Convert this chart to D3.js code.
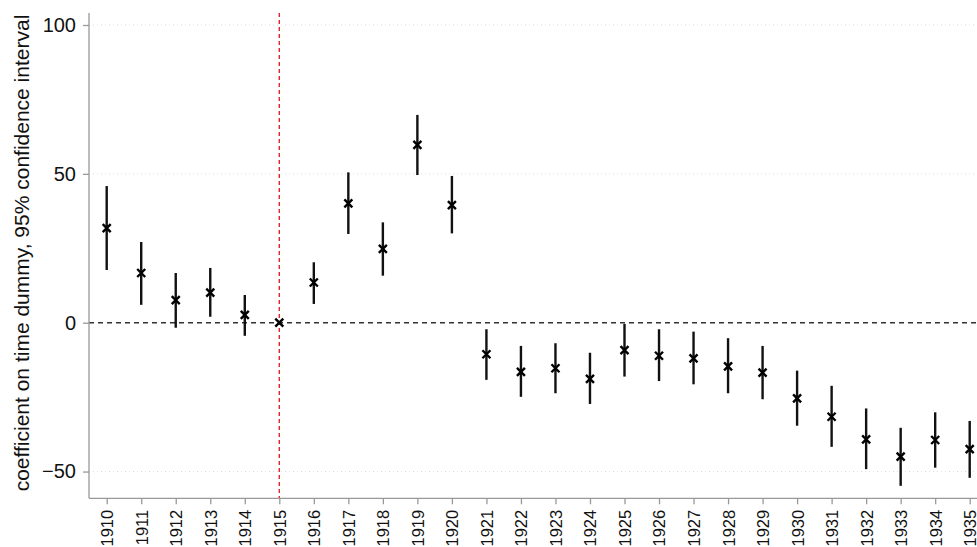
<!DOCTYPE html>
<html><head><meta charset="utf-8">
<script src="https://cdn.jsdelivr.net/npm/d3@7"></script>
<style>body{margin:0;background:#fff}svg{display:block}</style>
</head><body>
<script>
const years = [1910,1911,1912,1913,1914,1915,1916,1917,1918,1919,1920,1921,1922,1923,1924,1925,1926,1927,1928,1929,1930,1931,1932,1933,1934,1935];
const coef  = [31.8,16.7,7.6,10.1,2.6,0,13.5,40.1,24.8,59.7,39.5,-10.6,-16.5,-15.3,-18.9,-9.2,-11.1,-12.0,-14.7,-16.8,-25.4,-31.6,-39.2,-45.0,-39.4,-42.5];
const ciLow = [17.7,6.0,-1.7,2.0,-4.4,0,6.3,29.8,15.8,49.6,30.0,-19.2,-24.9,-23.7,-27.3,-18.1,-19.6,-20.7,-23.7,-25.7,-34.6,-41.7,-49.2,-54.8,-48.7,-52.1];
const ciHigh= [45.9,27.1,16.7,18.4,9.3,0,20.3,50.5,33.7,69.8,49.3,-2.2,-7.8,-6.9,-10.1,-0.4,-2.2,-3.0,-5.2,-7.8,-16.1,-21.2,-28.8,-35.3,-30.1,-33.0];
const yTicks = [-50,0,50,100];
const refYear = 1915;
const yTitle = "coefficient on time dummy, 95% confidence interval";

const W=977,H=547;
const svg=d3.select("body").append("svg").attr("width",W).attr("height",H);
const mLeft=89,mBottom=498.3,mTop=13,mRight=977;
const x=d3.scaleLinear().domain([1910,1935]).range([106.7,969.7]);
const y=d3.scaleLinear().domain([0,100]).range([322.7,25]);
const font="'Liberation Sans', Arial, sans-serif";

// gridlines
svg.append("g").selectAll("line").data(yTicks.filter(d=>d!==0)).join("line")
  .attr("x1",mLeft).attr("x2",mRight).attr("y1",d=>y(d)).attr("y2",d=>y(d))
  .attr("stroke","#dcdcdc").attr("stroke-width",1).attr("stroke-dasharray","1,3");

// zero line
svg.append("line").attr("x1",mLeft).attr("x2",mRight).attr("y1",y(0)).attr("y2",y(0))
  .attr("stroke","#333").attr("stroke-width",1.6).attr("stroke-dasharray","5,4");

// reference vertical
svg.append("line").attr("x1",x(refYear)).attr("x2",x(refYear)).attr("y1",mTop).attr("y2",mBottom)
  .attr("stroke","#e8242b").attr("stroke-width",1.4).attr("stroke-dasharray","4,3");

// y axis
const yAxis=svg.append("g").attr("transform",`translate(${mLeft},0)`)
  .call(d3.axisLeft(y).tickValues(yTicks).tickSize(6).tickPadding(7).tickFormat(d3.format("d")));
yAxis.select(".domain").attr("d",`M0,${mTop}V${mBottom}`);
yAxis.selectAll("path,line").attr("stroke","#999").attr("stroke-width",1.3);
yAxis.selectAll("text").attr("font-family",font).attr("font-size",20).attr("fill","#111");

// x axis
const xAxis=svg.append("g").attr("transform",`translate(0,${mBottom})`)
  .call(d3.axisBottom(x).tickValues(years).tickSize(6).tickFormat(d3.format("d")));
xAxis.select(".domain").attr("d",`M${mLeft},0H${mRight}`);
xAxis.selectAll("path,line").attr("stroke","#999").attr("stroke-width",1.3);
xAxis.selectAll("text").attr("font-family",font).attr("font-size",16.5).attr("fill","#111")
  .attr("transform","rotate(-90)").attr("text-anchor","end").attr("dy","0.36em").attr("x",-11.5).attr("y",0);

// y title
svg.append("text").attr("transform",`translate(21,253) rotate(-90)`)
  .attr("text-anchor","middle").attr("font-family",font).attr("font-size",21).attr("fill","#111")
  .attr("dy","0.36em").text(yTitle);

const data=years.map((yr,i)=>({yr,c:coef[i],lo:ciLow[i],hi:ciHigh[i]}));
// CI bars
svg.append("g").selectAll("line").data(data.filter(d=>d.hi!==d.lo)).join("line")
  .attr("x1",d=>x(d.yr)).attr("x2",d=>x(d.yr)).attr("y1",d=>y(d.hi)).attr("y2",d=>y(d.lo))
  .attr("stroke","#111").attr("stroke-width",2.4);
// markers
const s=4;
svg.append("g").selectAll("path").data(data).join("path")
  .attr("d",d=>{const cx=x(d.yr),cy=y(d.c);return `M${cx-s},${cy-s}L${cx+s},${cy+s}M${cx-s},${cy+s}L${cx+s},${cy-s}`;})
  .attr("stroke","#000").attr("stroke-width",2.4).attr("fill","none");
</script>
</body></html>
